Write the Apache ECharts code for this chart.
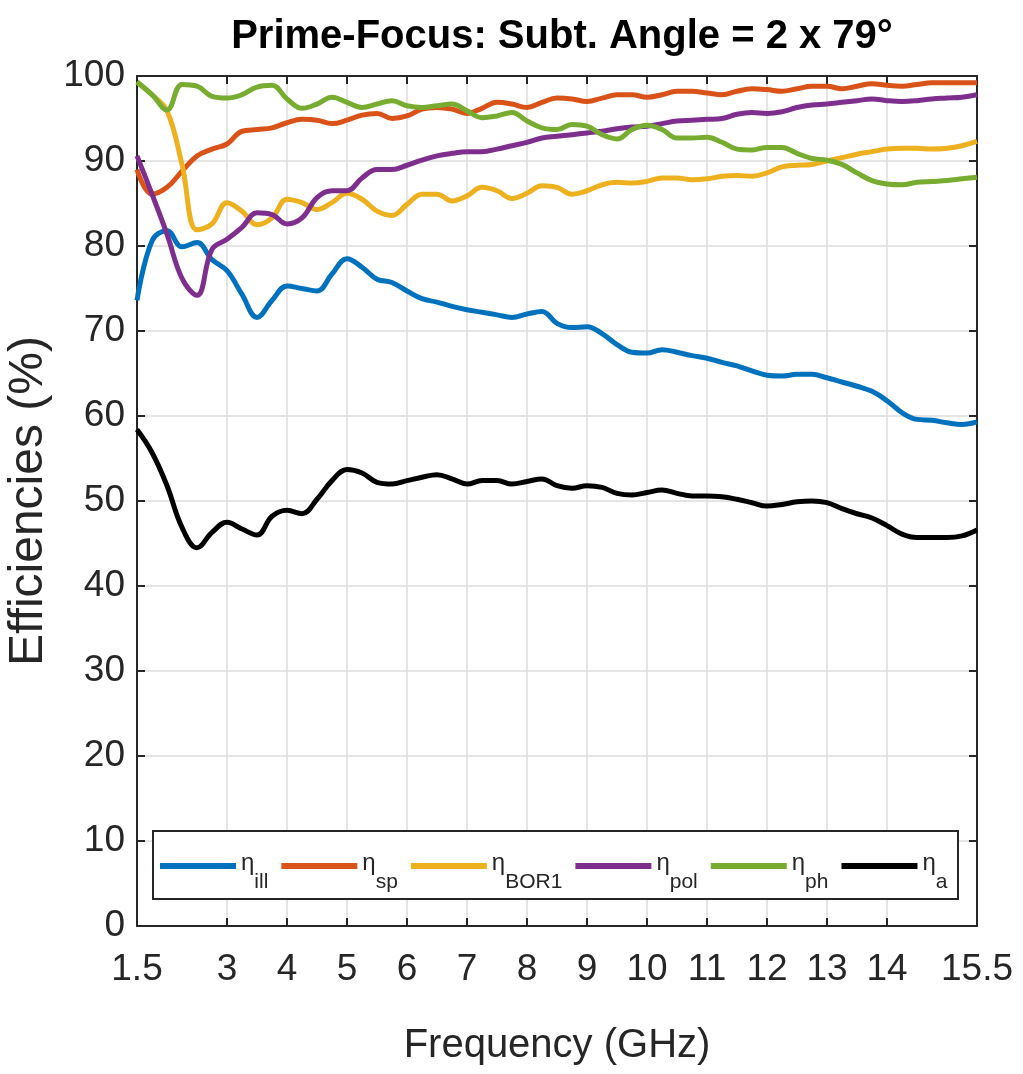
<!DOCTYPE html>
<html>
<head>
<meta charset="utf-8">
<script src="https://cdn.jsdelivr.net/npm/echarts@6/dist/echarts.min.js"></script>
<style>
  html, body { margin: 0; padding: 0; background: #fff; }
  #main { width: 1023px; height: 1074px; }
</style>
</head>
<body>
<div id="main"></div>
<script>
// frequency samples (GHz)
var freq = [1.5, 1.75, 2, 2.25, 2.5, 2.75, 3, 3.25, 3.5, 3.75, 4, 4.25, 4.5, 4.75, 5, 5.25, 5.5, 5.75, 6, 6.25,
    6.5, 6.75, 7, 7.25, 7.5, 7.75, 8, 8.25, 8.5, 8.75, 9, 9.25, 9.5, 9.75, 10, 10.25, 10.5, 10.75, 11, 11.25,
    11.5, 11.75, 12, 12.25, 12.5, 12.75, 13, 13.25, 13.5, 13.75, 14, 14.25, 14.5, 14.75, 15, 15.25, 15.5];

// efficiencies (%)
var etaIll = [73.6, 80.6, 81.8, 79.9, 80.4, 78.4, 77.1, 74.3, 71.6, 73.6, 75.3, 75.0, 74.7, 76.7, 78.5, 77.5, 76.1, 75.7, 74.7, 73.8,
    73.4, 72.9, 72.5, 72.2, 71.9, 71.6, 72.0, 72.3, 70.9, 70.4, 70.5, 69.7, 68.4, 67.5, 67.4, 67.8, 67.5, 67.1, 66.8, 66.3,
    65.9, 65.3, 64.8, 64.7, 64.9, 64.9, 64.5, 64.0, 63.5, 62.9, 61.8, 60.4, 59.6, 59.5, 59.2, 59.0, 59.3];
var etaSp = [89.0, 86.1, 86.9, 88.8, 90.6, 91.4, 92.0, 93.5, 93.7, 93.9, 94.5, 94.9, 94.8, 94.4, 94.8, 95.4, 95.6, 95.0, 95.3, 96.1,
    96.3, 96.1, 95.6, 96.2, 96.9, 96.7, 96.3, 96.9, 97.4, 97.3, 97.0, 97.4, 97.8, 97.8, 97.5, 97.8, 98.2, 98.2, 98.0, 97.8,
    98.2, 98.5, 98.4, 98.2, 98.5, 98.8, 98.8, 98.5, 98.8, 99.1, 98.9, 98.8, 99.0, 99.2, 99.2, 99.2, 99.2];
var etaBor1 = [99.3, 97.8, 95.9, 89.6, 81.9, 82.6, 85.1, 84.1, 82.5, 83.3, 85.5, 85.1, 84.3, 85.1, 86.2, 85.5, 84.1, 83.6, 84.9, 86.1,
    86.1, 85.3, 85.9, 86.9, 86.5, 85.6, 86.2, 87.1, 86.9, 86.1, 86.5, 87.2, 87.5, 87.4, 87.6, 88.0, 88.0, 87.8, 87.9, 88.2,
    88.3, 88.2, 88.6, 89.3, 89.5, 89.6, 90.0, 90.4, 90.8, 91.1, 91.4, 91.5, 91.5, 91.4, 91.5, 91.8, 92.3];
var etaPol = [90.6, 86.1, 81.4, 76.2, 74.2, 79.6, 80.8, 82.2, 83.9, 83.7, 82.6, 83.3, 85.7, 86.5, 86.5, 88.0, 89.0, 89.0, 89.5, 90.1,
    90.6, 90.9, 91.1, 91.1, 91.4, 91.8, 92.2, 92.7, 92.9, 93.1, 93.3, 93.5, 93.8, 94.0, 94.1, 94.4, 94.7, 94.8, 94.9, 95.0,
    95.5, 95.7, 95.6, 95.8, 96.3, 96.6, 96.7, 96.9, 97.1, 97.3, 97.1, 97.0, 97.1, 97.3, 97.4, 97.5, 97.8];
var etaPh = [99.3, 97.8, 96.0, 99.0, 98.8, 97.6, 97.4, 97.8, 98.7, 98.9, 97.3, 96.2, 96.7, 97.5, 96.9, 96.3, 96.7, 97.1, 96.5, 96.3,
    96.5, 96.7, 95.9, 95.1, 95.3, 95.7, 94.7, 93.9, 93.7, 94.3, 94.1, 93.1, 92.6, 93.7, 94.2, 93.7, 92.7, 92.7, 92.8, 92.2,
    91.4, 91.3, 91.6, 91.6, 90.9, 90.3, 90.1, 89.6, 88.6, 87.7, 87.3, 87.2, 87.5, 87.6, 87.7, 87.9, 88.1];
var etaA = [58.4, 55.7, 51.8, 46.9, 44.5, 46.3, 47.5, 46.7, 46.0, 48.2, 48.9, 48.5, 50.2, 52.4, 53.7, 53.3, 52.2, 52.0, 52.4, 52.8,
    53.1, 52.6, 52.0, 52.4, 52.4, 52.0, 52.3, 52.6, 51.8, 51.5, 51.8, 51.6, 50.9, 50.7, 51.0, 51.3, 50.9, 50.6, 50.6, 50.5,
    50.2, 49.8, 49.4, 49.6, 49.9, 50.0, 49.8, 49.1, 48.5, 48.0, 47.1, 46.1, 45.7, 45.7, 45.7, 45.9, 46.6];

var xTicks = [3, 4, 5, 6, 7, 8, 9, 10, 11, 12, 13, 14];
var xLabels = [1.5, 3, 4, 5, 6, 7, 8, 9, 10, 11, 12, 13, 14, 15.5];
var subs = ['ill', 'sp', 'BOR1', 'pol', 'ph', 'a'];
var colors = ['#0072BD', '#D95319', '#EDB120', '#7E2F8E', '#77AC30', '#000000'];
var curves = [etaIll, etaSp, etaBor1, etaPol, etaPh, etaA];

var FONT = "'Liberation Sans', Arial, sans-serif";
var AXC = '#262626';

var myChart = echarts.init(document.getElementById('main'));

function pairs(vals) {
    return freq.map(function (f, i) { return [f, vals[i]]; });
}

var series = curves.map(function (vals, i) {
    return {
        name: subs[i],
        type: 'line',
        data: pairs(vals),
        smooth: 0.4,
        symbol: 'none',
        lineStyle: { width: 5, color: colors[i] },
        itemStyle: { color: colors[i] },
        z: 2 + i
    };
});

option = {
    animation: false,
    backgroundColor: '#fff',
    title: {
        text: 'Prime-Focus: Subt. Angle = 2 x 79°',
        left: 557,
        textAlign: 'center',
        top: 12,
        textStyle: { fontFamily: FONT, fontWeight: 'bold', fontSize: 40, color: '#000' }
    },
    // legend frame
    graphic: [{
        type: 'rect',
        left: 152,
        top: 830,
        z: 50,
        shape: { width: 805, height: 68 },
        style: { fill: '#fff', stroke: AXC, lineWidth: 2 }
    }],
    legend: {
        left: 160,
        top: 851,
        padding: 0,
        z: 60,
        itemGap: 13,
        itemWidth: 76,
        itemHeight: 6,
        icon: 'rect',
        data: subs,
        formatter: function (name) {
            return '{e|η}{s|' + name + '}';
        },
        textStyle: {
            color: AXC,
            rich: {
                e: { fontFamily: FONT, fontSize: 24, padding: [0, 0, 6, 0], color: AXC },
                s: { fontFamily: FONT, fontSize: 21, padding: [32, 0, 0, 0], color: AXC }
            }
        }
    },
    grid: { left: 137, right: 46, top: 76, bottom: 148, containLabel: false, outerBoundsMode: 'none' },
    xAxis: [{
        type: 'value',
        min: 1.5,
        max: 15.5,
        name: 'Frequency (GHz)',
        nameLocation: 'middle',
        nameGap: 100,
        nameTextStyle: { fontFamily: FONT, fontSize: 40, color: AXC },
        axisLine: { show: true, onZero: false, lineStyle: { color: AXC, width: 2 } },
        axisTick: { show: true, inside: true, length: 8, customValues: xTicks, lineStyle: { color: AXC, width: 2 } },
        axisLabel: {
            customValues: xLabels, margin: 25, fontFamily: FONT, fontSize: 37, color: AXC,
            formatter: function (v) { return String(v); }
        },
        splitLine: { show: true, lineStyle: { color: '#dcdcdc', width: 1.5 } }
    }, {
        type: 'value',
        position: 'top',
        min: 1.5,
        max: 15.5,
        axisLine: { show: true, onZero: false, lineStyle: { color: AXC, width: 2 } },
        axisTick: { show: true, inside: true, length: 8, customValues: xTicks, lineStyle: { color: AXC, width: 2 } },
        axisLabel: { show: false },
        splitLine: { show: false }
    }],
    yAxis: [{
        type: 'value',
        min: 0,
        max: 100,
        interval: 10,
        name: 'Efficiencies (%)',
        nameLocation: 'middle',
        nameGap: 78,
        nameTextStyle: { fontFamily: FONT, fontSize: 48, color: AXC },
        axisLine: { show: true, onZero: false, lineStyle: { color: AXC, width: 2 } },
        axisTick: { show: true, inside: true, length: 8, lineStyle: { color: AXC, width: 2 } },
        axisLabel: { margin: 12, fontFamily: FONT, fontSize: 37, color: AXC },
        splitLine: { show: true, lineStyle: { color: '#dcdcdc', width: 1.5 } }
    }, {
        type: 'value',
        position: 'right',
        min: 0,
        max: 100,
        interval: 10,
        axisLine: { show: true, onZero: false, lineStyle: { color: AXC, width: 2 } },
        axisTick: { show: true, inside: true, length: 8, lineStyle: { color: AXC, width: 2 } },
        axisLabel: { show: false },
        splitLine: { show: false }
    }],
    series: series
};

myChart.setOption(option);
window.addEventListener('resize', function () {
    myChart.resize();
});
</script>
</body>
</html>
